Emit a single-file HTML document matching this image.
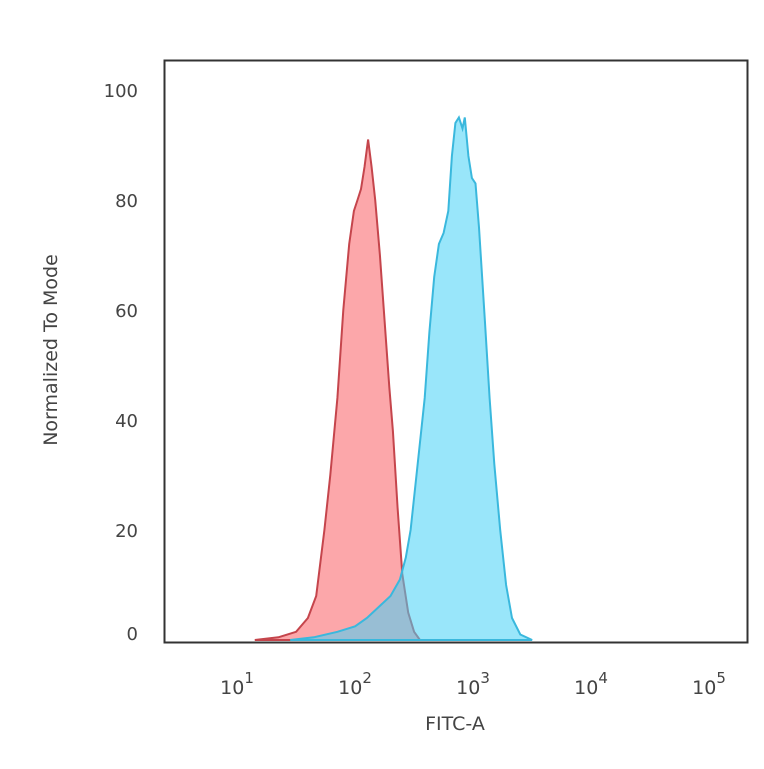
<!DOCTYPE html>
<html><head><meta charset="utf-8"><style>
body{margin:0;background:#fff}
svg text{font-family:"DejaVu Sans","Liberation Sans",sans-serif;fill:#444}
</style></head><body>
<svg id="chart" width="764" height="764" xmlns="http://www.w3.org/2000/svg">
<g id="plot"></g>
<rect x="164.5" y="60.5" width="583" height="582" fill="none" stroke="#333" stroke-width="2"/>
<g id="yt"></g>
<g id="xt"></g>
<text x="57" y="350" font-size="19" text-anchor="middle" transform="rotate(-90 57 350)">Normalized To Mode</text>
<text x="455" y="730" font-size="19" text-anchor="middle">FITC-A</text>
</svg>
<script>
const yTicks=[0,20,40,60,80,100];
const xTickExps=[1,2,3,4,5];
const redLog=[1.1,1.3,1.45,1.55,1.62,1.69,1.74,1.8,1.85,1.9,1.94,1.97,2.0,2.03,2.06,2.09,2.12,2.16,2.2,2.24,2.27,2.31,2.35,2.4,2.45,2.5];
const redVal=[0,0.5,1.5,4,8,20,30,44,60,72,78,80,82,86,91,86,80,70,58,46,38,24,12,5,1.5,0];
const blueLog=[1.4,1.6,1.8,1.95,2.05,2.15,2.25,2.33,2.38,2.42,2.47,2.51,2.54,2.58,2.62,2.66,2.7,2.74,2.77,2.8,2.83,2.86,2.88,2.91,2.94,2.97,3.0,3.05,3.09,3.13,3.18,3.23,3.28,3.35,3.45];
const blueVal=[0,0.5,1.5,2.5,4,6,8,11,15,20,30,38,44,56,66,72,74,78,88,94,95,93,95,88,84,83,75,58,44,32,20,10,4,1,0];
const X=l=>243+118*(l-1);
const Y=v=>640-5.5*v;
const NS="http://www.w3.org/2000/svg";
function area(ls,vs,fill,stroke,name){
  let d="M"+X(ls[0])+","+Y(0);
  ls.forEach((l,i)=>d+=" L"+X(l).toFixed(1)+","+Y(vs[i]).toFixed(1));
  d+=" L"+X(ls[ls.length-1])+","+Y(0)+"Z";
  const p=document.createElementNS(NS,"path");
  p.setAttribute("d",d);p.setAttribute("fill",fill);p.setAttribute("stroke",stroke);p.setAttribute("stroke-width","2");
  
  
  document.getElementById("plot").appendChild(p);
}
area(redLog,redVal,"rgba(250,120,125,0.65)","#c5454c","red-histogram");
area(blueLog,blueVal,"rgba(70,210,245,0.55)","#3ab8dd","blue-histogram");
const yt=document.getElementById("yt");
yTicks.forEach(v=>{const t=document.createElementNS(NS,"text");
 t.setAttribute("x",138);t.setAttribute("y",Y(v)+(v===0?0:7));t.setAttribute("font-size","18");t.setAttribute("text-anchor","end");t.textContent=v;
 
 
 yt.appendChild(t);});
const xt=document.getElementById("xt");
xTickExps.forEach(e=>{const t=document.createElementNS(NS,"text");
 t.setAttribute("x",X(e)-6);t.setAttribute("y",694);t.setAttribute("font-size","19");t.setAttribute("text-anchor","middle");
 t.innerHTML="10<tspan dy='-11' font-size='15'>"+e+"</tspan>";
 
 
 xt.appendChild(t);});
</script>
</body></html>
